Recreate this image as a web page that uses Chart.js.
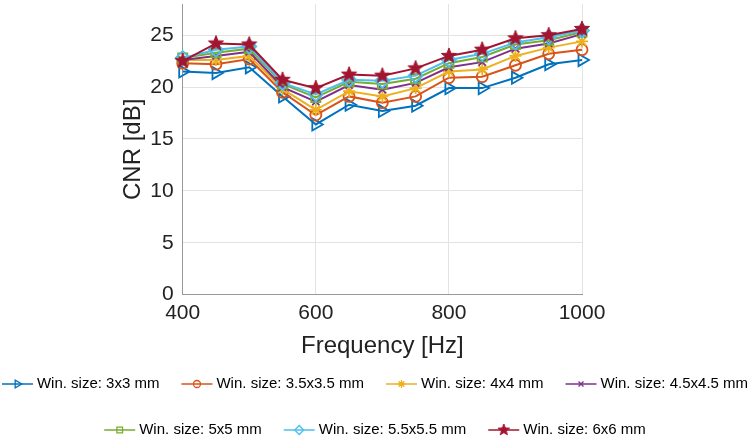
<!DOCTYPE html>
<html><head><meta charset="utf-8">
<script src="https://cdn.jsdelivr.net/npm/chart.js@4.4.1/dist/chart.umd.min.js"></script>
<style>html,body{margin:0;padding:0;background:#fff;}</style>
</head><body>
<canvas id="c" width="750" height="438"></canvas>
<script>
// ---- data ----
const frequencies = [400, 450, 500, 550, 600, 650, 700, 750, 800, 850, 900, 950, 1000];
const seriesLabels = ['Win. size: 3x3 mm', 'Win. size: 3.5x3.5 mm', 'Win. size: 4x4 mm', 'Win. size: 4.5x4.5 mm',
                      'Win. size: 5x5 mm', 'Win. size: 5.5x5.5 mm', 'Win. size: 6x6 mm'];
const cnr3x3     = [21.5, 21.35, 21.9, 19.1, 16.4, 18.3, 17.7, 18.2, 19.9, 19.9, 20.9, 22.2, 22.6];
const cnr3p5x3p5 = [22.3, 22.2, 22.7, 19.5, 17.3, 19.1, 18.5, 19.1, 20.9, 21.0, 22.1, 23.2, 23.6];
const cnr4x4     = [22.6, 22.6, 23.0, 19.8, 17.8, 19.6, 19.1, 19.9, 21.5, 21.7, 23.0, 23.8, 24.4];
const cnr4p5x4p5 = [22.6, 23.0, 23.4, 20.0, 18.6, 20.2, 19.75, 20.4, 21.9, 22.4, 23.7, 24.2, 25.1];
const cnr5x5     = [22.8, 23.3, 23.7, 20.3, 19.0, 20.5, 20.3, 20.8, 22.3, 22.9, 24.1, 24.5, 25.3];
const cnr5p5x5p5 = [22.8, 23.6, 23.9, 20.4, 19.3, 20.7, 20.6, 21.1, 22.6, 23.2, 24.3, 24.8, 25.45];
const cnr6x6     = [22.5, 24.2, 24.1, 20.7, 19.9, 21.2, 21.1, 21.8, 23.0, 23.6, 24.7, 25.0, 25.6];
const seriesValues = [cnr3x3, cnr3p5x3p5, cnr4x4, cnr4p5x4p5, cnr5x5, cnr5p5x5p5, cnr6x6];
const xTicks = [400, 600, 800, 1000];
const yTicks = [0, 5, 10, 15, 20, 25];

// ---- styles ----
const FONT = "'Liberation Sans', Arial, Helvetica, sans-serif";
const colors = ['#0072BD', '#D95319', '#EDB120', '#7E2F8E', '#77AC30', '#4DBEEE', '#A2142F'];
const markerStyles = ['triangle', 'circle', 'star', 'crossRot', 'rect', 'rectRot', 'pentagram'];
const chartRadius = [7, 5.5, 6, 5, 6.5, 7, 8];
const legendRadius = [4.5, 3.5, 4, 3.5, 4, 4.5, 6];

function makePentagram(size, outer, color) {
  const cv = document.createElement('canvas');
  cv.width = size; cv.height = size;
  const g = cv.getContext('2d');
  const cx = size / 2, cy = size / 2, inner = outer * 0.42;
  g.beginPath();
  for (let k = 0; k < 10; k++) {
    const r = k % 2 === 0 ? outer : inner;
    const a = -Math.PI / 2 + k * Math.PI / 5;
    const px = cx + r * Math.cos(a), py = cy + r * Math.sin(a);
    if (k === 0) g.moveTo(px, py); else g.lineTo(px, py);
  }
  g.closePath();
  g.fillStyle = color; g.strokeStyle = color; g.lineWidth = 1;
  g.fill(); g.stroke();
  return cv;
}

function styleFor(i, radius) {
  if (markerStyles[i] === 'pentagram') {
    const s = Math.ceil(radius * 2 + 4);
    return makePentagram(s, radius, colors[i]);
  }
  return markerStyles[i];
}

const datasets = seriesValues.map((vals, i) => ({
  label: seriesLabels[i],
  data: frequencies.map((f, j) => ({ x: f, y: vals[j] })),
  borderColor: colors[i],
  backgroundColor: colors[i],
  borderWidth: 2,
  pointStyle: styleFor(i, chartRadius[i]),
  pointRadius: chartRadius[i],
  pointHoverRadius: chartRadius[i],
  pointRotation: markerStyles[i] === 'triangle' ? 90 : 0,
  pointBorderColor: colors[i],
  pointBackgroundColor: 'rgba(0,0,0,0)',
  pointBorderWidth: 1.8,
  tension: 0,
  clip: false,
  order: seriesValues.length - i
}));

const legendMarkers = seriesValues.map((v, i) => styleFor(i, legendRadius[i]));

const customLegend = {
  id: 'customLegend',
  afterDraw(chart) {
    const ctx = chart.ctx;
    ctx.save();
    ctx.font = '15px ' + FONT;
    ctx.textBaseline = 'middle';
    ctx.textAlign = 'left';
    const lineLen = 31, gapText = 4, gapItem = 22;
    const rows = [[0, 1, 2, 3], [4, 5, 6]];
    const rowY = [384, 430];
    rows.forEach((row, r) => {
      const widths = row.map(i => lineLen + gapText + ctx.measureText(seriesLabels[i]).width);
      const total = widths.reduce((a, b) => a + b, 0) + gapItem * (row.length - 1);
      let x = (chart.width - total) / 2;
      const y = rowY[r];
      row.forEach((i, k) => {
        ctx.strokeStyle = colors[i];
        ctx.lineWidth = 1.5;
        ctx.beginPath(); ctx.moveTo(x, y); ctx.lineTo(x + lineLen, y); ctx.stroke();
        ctx.fillStyle = 'rgba(0,0,0,0)';
        ctx.lineWidth = 1.3;
        Chart.helpers.drawPoint(ctx, {
          pointStyle: legendMarkers[i], radius: legendRadius[i],
          rotation: markerStyles[i] === 'triangle' ? 90 : 0, borderWidth: 1.3
        }, x + lineLen / 2, y);
        ctx.fillStyle = '#000';
        ctx.fillText(seriesLabels[i], x + lineLen + gapText, y);
        x += widths[k] + gapItem;
      });
    });
    ctx.restore();
  }
};

new Chart(document.getElementById('c'), {
  type: 'line',
  data: { datasets },
  plugins: [customLegend],
  options: {
    responsive: false,
    animation: false,
    devicePixelRatio: 1,
    layout: { autoPadding: false, padding: { left: 0, right: 168, top: 4, bottom: 438 - 294.7 - 66 } },
    plugins: { legend: { display: false }, tooltip: { enabled: false } },
    scales: {
      x: {
        type: 'linear', min: 400, max: 1000,
        afterFit(s) { s.height = 66; s.paddingLeft = 0; s.paddingRight = 0; },
        afterBuildTicks(s) { s.ticks = xTicks.map(v => ({ value: v })); },
        grid: { color: '#e3e3e3', lineWidth: 1, drawTicks: false },
        border: { color: '#999', width: 1 },
        ticks: { color: '#222', font: { family: FONT, size: 21 }, padding: 6, maxRotation: 0,
                 callback: v => String(v) },
        title: { display: true, text: 'Frequency [Hz]', color: '#222',
                 font: { family: FONT, size: 24 }, padding: { top: 0, bottom: 0 } }
      },
      y: {
        type: 'linear', min: 0, max: 28,
        afterFit(s) { s.width = 182.7; s.paddingTop = 0; s.paddingBottom = 0; },
        afterBuildTicks(s) { s.ticks = yTicks.map(v => ({ value: v })); },
        grid: { color: '#e3e3e3', lineWidth: 1, drawTicks: false },
        border: { color: '#999', width: 1 },
        ticks: { color: '#222', font: { family: FONT, size: 21 }, padding: 9,
                 callback: v => String(v) },
        title: { display: true, text: 'CNR [dB]', color: '#222',
                 font: { family: FONT, size: 24 }, padding: { top: 118.6, bottom: 0 } }
      }
    }
  }
});
</script>
</body></html>
